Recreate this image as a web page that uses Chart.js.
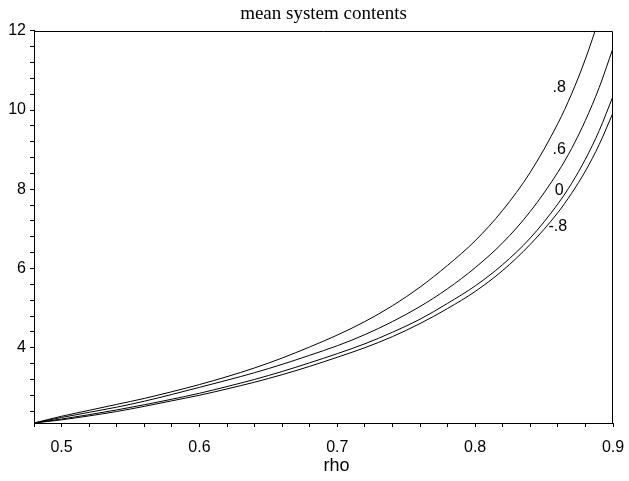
<!DOCTYPE html>
<html>
<head>
<meta charset="utf-8">
<script src="https://cdn.jsdelivr.net/npm/chart.js@4.4.1/dist/chart.umd.min.js"></script>
<style>
  html, body { margin: 0; padding: 0; background: #fff; }
</style>
</head>
<body>
<canvas id="chart" width="629" height="481"></canvas>
<script>
// load factor on the x axis
const rho = [0.48, 0.50, 0.52, 0.54, 0.56, 0.58, 0.60, 0.62, 0.64, 0.66, 0.68, 0.70,
             0.72, 0.74, 0.76, 0.78, 0.80, 0.82, 0.84, 0.86, 0.87, 0.88, 0.89, 0.90];

// mean system contents, one array per correlation value
const seriesNames = ['.8', '.6', '0', '-.8'];
const contentsP08 = [2.10, 2.27, 2.42, 2.57, 2.72, 2.89, 3.07, 3.27, 3.49, 3.74, 4.02, 4.32,
                     4.66, 5.06, 5.53, 6.08, 6.70, 7.47, 8.43, 9.66, 10.41, 11.29, 12.33, 13.58];
const contentsP06 = [2.10, 2.24, 2.37, 2.50, 2.65, 2.82, 3.00, 3.18, 3.37, 3.58, 3.81, 4.05,
                     4.33, 4.66, 5.04, 5.49, 6.02, 6.65, 7.44, 8.43, 9.03, 9.74, 10.57, 11.56];
const contents0   = [2.10, 2.20, 2.31, 2.43, 2.56, 2.70, 2.85, 3.02, 3.20, 3.40, 3.62, 3.85,
                     4.10, 4.39, 4.72, 5.12, 5.56, 6.10, 6.77, 7.63, 8.15, 8.76, 9.48, 10.35];
const contentsM08 = [2.10, 2.18, 2.28, 2.39, 2.52, 2.66, 2.80, 2.96, 3.13, 3.32, 3.53, 3.76,
                     4.00, 4.28, 4.61, 4.99, 5.42, 5.95, 6.61, 7.41, 7.90, 8.46, 9.13, 9.93];

// where the curve names sit, in data units
const labelRho = [0.861, 0.861, 0.861, 0.860];
const labelValue = [10.57, 8.99, 7.97, 7.06];

// axis ranges and ticks
const xMin = 0.48, xMax = 0.9, xMinorStep = 0.02;
const yMin = 2.1, yMax = 12, yMinorStep = 0.4;
const xMajorTicks = [0.5, 0.6, 0.7, 0.8, 0.9];
const yMajorTicks = [4, 6, 8, 10, 12];
const xAxisTitle = 'rho';

const allSeries = [contentsP08, contentsP06, contents0, contentsM08];

function isMajor(list, v) {
    return list.some(m => Math.abs(m - v) < 1e-6);
}

function stepTicks(from, to, step) {
    const out = [];
    const first = Math.ceil(from / step - 1e-9);
    const last = Math.floor(to / step + 1e-9);
    for (let i = first; i <= last; i++) {
        out.push({ value: Math.round(i * step * 1000) / 1000 });
    }
    return out;
}

const sans = '"Liberation Sans", Arial, Helvetica, sans-serif';

// top and right edges of the box, curve names, and the x axis title
const frameAndLabels = {
    id: 'frameAndLabels',
    afterDatasetsDraw(chart) {
        const { ctx, chartArea, scales } = chart;
        const top = Math.round(chartArea.top) + 0.5;
        const right = Math.round(chartArea.right) - 0.5;
        ctx.save();
        ctx.strokeStyle = '#000';
        ctx.lineWidth = 1;
        ctx.beginPath();
        ctx.moveTo(chartArea.left, top);
        ctx.lineTo(right, top);
        ctx.lineTo(right, chartArea.bottom);
        ctx.stroke();

        ctx.fillStyle = '#000';
        ctx.textAlign = 'center';
        ctx.textBaseline = 'middle';
        ctx.font = '16px ' + sans;
        seriesNames.forEach((name, i) => {
            ctx.fillText(name, scales.x.getPixelForValue(labelRho[i]), scales.y.getPixelForValue(labelValue[i]));
        });

        ctx.font = '18px ' + sans;
        ctx.fillText(xAxisTitle, (chartArea.left + chartArea.right) / 2 + 13, chartArea.bottom + 43);
        ctx.restore();
    }
};

const ctx = document.getElementById('chart').getContext('2d');
new Chart(ctx, {
    type: 'line',
    data: {
        datasets: allSeries.map((values, i) => ({
            label: seriesNames[i],
            data: values.map((v, j) => ({ x: rho[j], y: v })),
            borderColor: '#000',
            borderWidth: 1,
            pointRadius: 0,
            fill: false,
            cubicInterpolationMode: 'monotone',
        })),
    },
    options: {
        responsive: false,
        animation: false,
        devicePixelRatio: 1,
        layout: { padding: { left: 0, right: 16, top: 0, bottom: 0 } },
        plugins: {
            legend: { display: false },
            tooltip: { enabled: false },
            title: {
                display: true,
                text: 'mean system contents',
                fullSize: false,
                color: '#000',
                font: { family: '"Liberation Serif", "Times New Roman", serif', size: 19, weight: 'normal' },
                padding: { top: 3, bottom: 5 },
            },
        },
        scales: {
            x: {
                type: 'linear',
                min: xMin,
                max: xMax,
                afterBuildTicks: (scale) => { scale.ticks = stepTicks(xMin, xMax, xMinorStep); },
                afterFit: (scale) => {
                    scale.height = 58;
                    scale.paddingLeft = 0;
                    scale.paddingRight = 0;
                },
                ticks: {
                    autoSkip: false,
                    maxRotation: 0,
                    padding: 11,
                    color: '#000',
                    font: { family: sans, size: 16 },
                    callback: (v) => isMajor(xMajorTicks, v) ? v.toFixed(1) : '',
                },
                grid: { drawOnChartArea: false, tickLength: 4, color: '#000' },
                border: { display: true, color: '#000', width: 1 },
            },
            y: {
                type: 'linear',
                min: yMin,
                max: yMax,
                afterBuildTicks: (scale) => { scale.ticks = stepTicks(yMin, yMax, yMinorStep); },
                afterFit: (scale) => { scale.width = 34; },
                ticks: {
                    autoSkip: false,
                    padding: 4,
                    color: '#000',
                    font: { family: sans, size: 16 },
                    callback: (v) => isMajor(yMajorTicks, v) ? String(v) : '',
                },
                grid: { drawOnChartArea: false, tickLength: 4, color: '#000' },
                border: { display: true, color: '#000', width: 1 },
            },
        },
    },
    plugins: [frameAndLabels],
});
</script>
</body>
</html>
